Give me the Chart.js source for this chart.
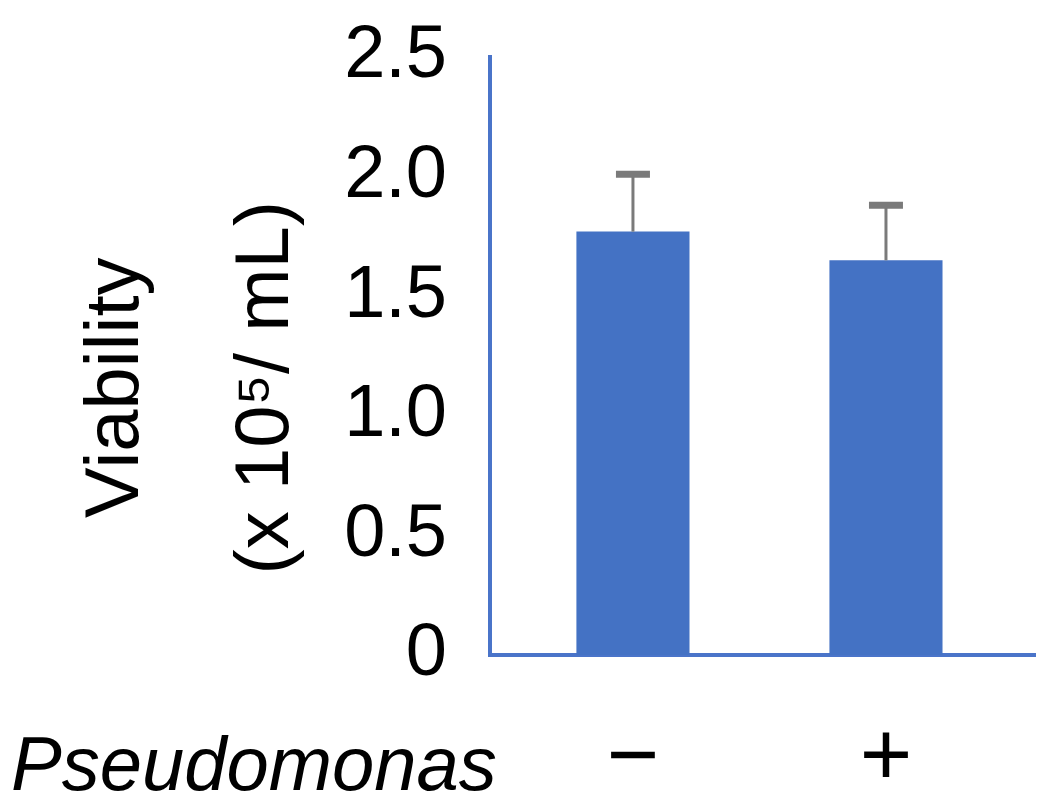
<!DOCTYPE html>
<html>
<head>
<meta charset="utf-8">
<script src="https://cdn.jsdelivr.net/npm/chart.js@4/dist/chart.umd.min.js"></script>
<style>
html,body{margin:0;padding:0;background:#fff;}
#wrap{width:1050px;height:807px;position:relative;}
</style>
</head>
<body>
<div id="wrap"><canvas id="c" width="1050" height="807"></canvas></div>
<script>
// ---- data ----
const categories = ['\u2212', '+'];
const viability = [1.77, 1.65];
const errors = [0.24, 0.23];
const yTicks = [0, 0.5, 1.0, 1.5, 2.0, 2.5];
const yTickLabels = ['0', '0.5', '1.0', '1.5', '2.0', '2.5'];
const xGroupLabel = 'Pseudomonas';
const yTitle = ['Viability   ', '(x 10\u2075/ mL)   '];

const FONT = "'Liberation Sans', Arial, Helvetica, sans-serif";
const AXIS_COLOR = '#4a74c9';
const BAR_COLOR = '#4472c4';
const ERR_COLOR = '#7a7a7a';

const errorBars = {
  id: 'errorBars',
  afterDatasetsDraw(chart) {
    const meta = chart.getDatasetMeta(0);
    const ys = chart.scales.y;
    const ctx = chart.ctx;
    ctx.save();
    ctx.strokeStyle = ERR_COLOR;
    meta.data.forEach((el, i) => {
      const top = ys.getPixelForValue(viability[i] + errors[i]);
      const x = el.x;
      ctx.lineWidth = 3;
      ctx.beginPath();
      ctx.moveTo(x, el.y);
      ctx.lineTo(x, top);
      ctx.stroke();
      ctx.lineWidth = 7;
      ctx.beginPath();
      ctx.moveTo(x - 17, top);
      ctx.lineTo(x + 17, top);
      ctx.stroke();
    });
    ctx.restore();
  }
};

const groupLabel = {
  id: 'groupLabel',
  afterDraw(chart) {
    const xs = chart.scales.x;
    const ctx = chart.ctx;
    ctx.save();
    ctx.font = 'italic 76px ' + FONT;
    ctx.fillStyle = '#000';
    ctx.textBaseline = 'alphabetic';
    ctx.textAlign = 'left';
    ctx.fillText(xGroupLabel, 11, xs.top + 135);
    ctx.restore();
  }
};

new Chart(document.getElementById('c'), {
  type: 'bar',
  data: {
    datasets: [{
      data: viability.map((v, i) => ({x: i, y: v})),
      backgroundColor: BAR_COLOR,
      borderWidth: 0,
      barPercentage: 0.447,
      categoryPercentage: 1
    }]
  },
  options: {
    responsive: false,
    animation: false,
    layout: {padding: {top: 57, right: 15, left: 0, bottom: 0}},
    plugins: {legend: {display: false}, tooltip: {enabled: false}},
    scales: {
      x: {
        type: 'linear',
        offset: false,
        min: -0.565,
        max: 1.589,
        grid: {display: false, drawTicks: false},
        border: {display: true, color: AXIS_COLOR, width: 4},
        afterBuildTicks(scale) { scale.ticks = categories.map((_, i) => ({value: i})); },
        afterFit(scale) { scale.height = 152; scale.paddingLeft = 0; scale.paddingRight = 0; },
        ticks: {
          padding: 51,
          color: '#000',
          font: {family: FONT, size: 90},
          callback: (v) => categories[v] !== undefined ? categories[v] : ''
        }
      },
      y: {
        min: 0,
        max: 2.5,
        grid: {display: false, drawTicks: false},
        border: {display: true, color: AXIS_COLOR, width: 4},
        afterBuildTicks(scale) { scale.ticks = yTicks.map(v => ({value: v})); },
        afterFit(scale) { scale.width = 490; scale.paddingTop = 0; scale.paddingBottom = 0; },
        ticks: {
          padding: 43,
          color: '#000',
          font: {family: FONT, size: 74},
          callback: (v) => { const k = yTicks.indexOf(v); return k >= 0 ? yTickLabels[k] : ''; }
        },
        title: {
          display: true,
          text: yTitle,
          color: '#000',
          font: {family: FONT, size: 76, lineHeight: 1.97},
          padding: {top: 42, bottom: 0}
        }
      }
    }
  },
  plugins: [errorBars, groupLabel]
});
</script>
</body>
</html>
